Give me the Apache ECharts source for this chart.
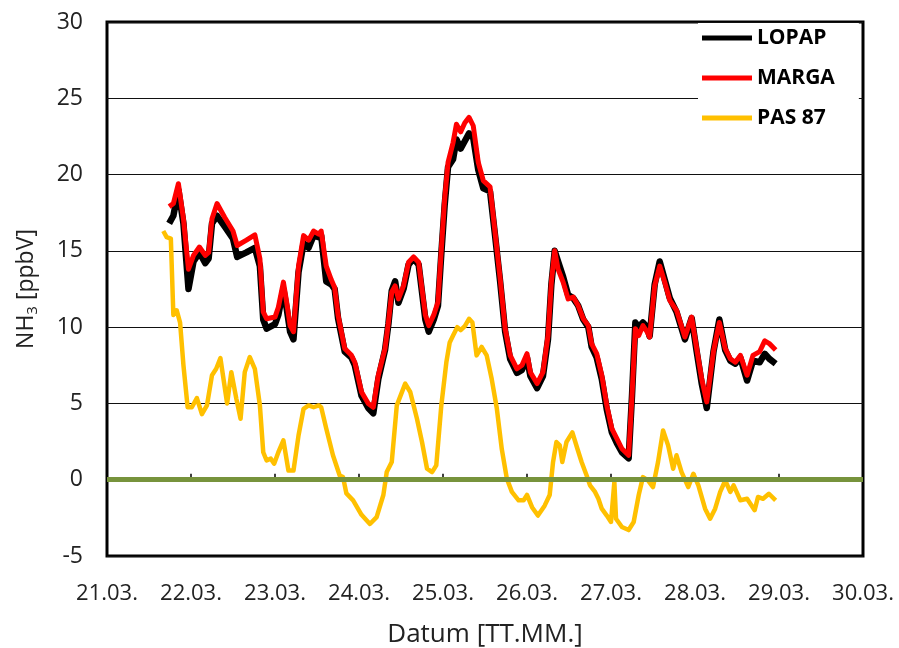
<!DOCTYPE html>
<html>
<head>
<meta charset="utf-8">
<script src="https://cdn.jsdelivr.net/npm/echarts@6/dist/echarts.min.js"></script>
<style>
html,body{margin:0;padding:0;background:#fff;}
#chart{width:899px;height:648px;}
</style>
</head>
<body>
<div id="chart"></div>
<script>
// ---- data (x = day of March, fractional) ----
const tickLabels = ['21.03.','22.03.','23.03.','24.03.','25.03.','26.03.','27.03.','28.03.','29.03.','30.03.'];
const seriesNames = ['LOPAP','MARGA','PAS 87'];

const analyzerDays = [
 21.74,21.79,21.85,21.91,21.97,22.03,22.10,22.17,22.21,22.25,22.31,22.40,22.50,22.55,22.66,22.76,22.82,22.86,22.90,23.00,
 23.04,23.10,23.14,23.18,23.22,23.28,23.34,23.40,23.46,23.52,23.55,23.61,23.67,23.71,23.75,23.83,23.91,23.95,24.03,24.11,
 24.17,24.23,24.31,24.35,24.39,24.43,24.47,24.53,24.59,24.65,24.71,24.75,24.79,24.83,24.89,24.94,24.98,25.02,25.06,25.12,
 25.16,25.21,25.26,25.31,25.36,25.42,25.48,25.56,25.62,25.68,25.74,25.80,25.88,25.94,26.00,26.04,26.12,26.19,26.25,26.29,
 26.33,26.37,26.43,26.49,26.55,26.61,26.67,26.73,26.77,26.83,26.89,26.95,27.01,27.07,27.13,27.21,27.25,27.29,27.33,27.38,
 27.43,27.46,27.52,27.58,27.64,27.70,27.78,27.88,27.96,28.02,28.08,28.14,28.22,28.29,28.36,28.42,28.48,28.54,28.62,28.69,
 28.77,28.83,28.89,28.96
];
const margaValues = [
 17.9,18.1,19.4,17.1,13.8,14.7,15.25,14.7,14.9,17.1,18.1,17.2,16.3,15.35,15.7,16.05,14.5,11.0,10.55,10.66,
 11.3,12.95,11.6,10.1,9.7,14.0,16.0,15.7,16.3,16.1,16.3,14.0,13.1,12.6,10.8,8.6,8.15,7.7,5.75,5.0,
 4.75,6.85,8.6,10.3,12.3,12.7,11.85,12.7,14.25,14.6,14.25,12.5,10.8,10.1,10.8,11.65,15.1,18.4,20.8,22.1,
 23.3,22.8,23.4,23.75,23.2,20.8,19.6,19.2,16.2,13.2,9.9,8.15,7.27,7.5,8.26,7.05,6.3,7.05,9.45,12.95,
 15.0,13.8,12.95,11.85,11.97,11.4,10.55,10.1,8.9,8.26,6.85,4.87,3.35,2.7,2.03,1.6,5.5,9.9,9.45,10.1,
 9.7,9.35,12.7,14.0,12.95,11.75,11.1,9.35,10.66,8.6,6.6,5.1,8.4,10.3,8.6,7.93,7.7,8.15,6.85,8.15,
 8.4,9.1,8.9,8.5
];
const lopapValues = [
 16.8,17.3,19.0,16.8,12.5,14.3,14.9,14.2,14.5,16.8,17.3,16.6,15.8,14.6,14.9,15.2,14.0,10.5,9.9,10.2,
 10.8,12.5,11.2,9.7,9.2,13.6,15.5,15.2,16.0,15.9,16.0,13.0,12.8,12.5,10.6,8.4,8.0,7.5,5.5,4.7,
 4.35,6.6,8.5,10.2,12.4,13.0,11.6,12.5,14.1,14.5,14.1,12.3,10.5,9.7,10.5,11.4,14.8,18.0,20.5,21.0,
 22.3,21.7,22.2,22.7,22.4,20.3,19.1,18.9,16.0,13.0,9.7,7.9,7.0,7.2,8.0,6.8,6.0,6.8,9.2,12.8,
 15.0,14.3,13.3,12.1,11.9,11.4,10.5,10.0,8.7,8.0,6.6,4.6,3.1,2.4,1.8,1.4,5.5,10.3,10.0,10.3,
 10.0,9.4,12.8,14.3,13.1,11.9,11.0,9.2,10.6,8.4,6.3,4.7,8.4,10.5,8.5,7.8,7.6,8.0,6.5,7.8,
 7.7,8.25,7.9,7.6
];

const pasDays = [
 21.67,21.71,21.76,21.79,21.83,21.87,21.91,21.96,22.01,22.07,22.13,22.19,22.25,22.30,22.35,22.43,22.48,22.54,22.59,22.64,
 22.70,22.76,22.82,22.86,22.90,22.95,22.99,23.04,23.10,23.16,23.22,23.28,23.34,23.40,23.46,23.52,23.55,23.61,23.69,23.77,
 23.81,23.85,23.93,24.03,24.13,24.21,24.29,24.33,24.39,24.45,24.55,24.61,24.69,24.75,24.81,24.87,24.92,24.98,25.04,25.08,
 25.12,25.17,25.21,25.26,25.31,25.35,25.40,25.46,25.52,25.58,25.64,25.70,25.76,25.82,25.90,25.96,26.00,26.06,26.13,26.21,
 26.27,26.31,26.35,26.39,26.42,26.47,26.54,26.60,26.65,26.71,26.75,26.81,26.85,26.89,26.95,27.00,27.04,27.06,27.13,27.21,
 27.27,27.33,27.38,27.44,27.50,27.56,27.62,27.68,27.74,27.78,27.84,27.92,27.98,28.04,28.12,28.18,28.24,28.30,28.36,28.42,
 28.46,28.54,28.62,28.71,28.75,28.81,28.88,28.96
];
const pasValues = [
 16.3,15.9,15.8,10.8,11.1,10.3,7.5,4.75,4.75,5.35,4.3,4.87,6.85,7.27,7.97,5.0,7.05,5.3,4.0,7.05,
 8.04,7.27,4.87,1.8,1.26,1.38,1.05,1.8,2.58,0.6,0.6,2.9,4.65,4.87,4.75,4.87,4.75,3.35,1.6,0.28,
 0.17,-0.9,-1.35,-2.3,-2.9,-2.45,-1.0,0.5,1.16,4.87,6.3,5.75,4.0,2.47,0.72,0.5,0.94,4.87,7.7,9.0,
 9.45,10.0,9.8,10.07,10.55,10.3,8.15,8.7,8.15,6.6,4.7,2.0,0.07,-0.8,-1.35,-1.35,-1.0,-1.8,-2.35,-1.7,
 -1.0,1.16,2.47,2.25,1.16,2.47,3.1,2.03,1.16,0.28,-0.37,-0.8,-1.25,-1.9,-2.35,-2.77,-0.15,-2.56,-3.1,-3.3,
 -2.77,-1.0,0.17,-0.05,-0.48,1.16,3.23,2.25,0.72,1.6,0.5,-0.48,0.39,-0.37,-1.9,-2.56,-1.9,-0.8,-0.05,-0.8,
 -0.37,-1.35,-1.25,-2.0,-1.13,-1.25,-0.92,-1.35
];

// ---- chart ----
function pairs(xs, ys) { return xs.map(function (x, i) { return [x, ys[i]]; }); }
const FONT = 'Open Sans';
const chart = echarts.init(document.getElementById('chart'), null, { renderer: 'canvas' });
chart.setOption({
  animation: false,
  backgroundColor: '#ffffff',
  grid: { left: 107, right: 36, top: 22, bottom: 92, outerBoundsMode: 'none', containLabel: false,
    show: true, borderColor: '#000', borderWidth: 3, backgroundColor: 'transparent' },
  legend: {
    orient: 'vertical', left: 698, top: 23,
    backgroundColor: '#ffffff', padding: [4, 24, 10, 4],
    itemWidth: 50, itemHeight: 5, itemGap: 18, icon: 'rect',
    textStyle: { fontFamily: FONT, fontWeight: 'bold', fontSize: 21, color: '#000', lineHeight: 22 },
    data: seriesNames
  },
  xAxis: {
    type: 'value', min: 21, max: 30, interval: 1,
    axisLine: { show: false },
    axisTick: { show: true, inside: true, length: 6, lineStyle: { color: '#000', width: 1.5 } },
    splitLine: { show: false },
    axisLabel: { formatter: function (v) { return tickLabels[Math.round(v - 21)]; }, fontFamily: FONT, fontSize: 22, color: '#222', margin: 27 },
    name: 'Datum [TT.MM.]', nameLocation: 'middle', nameGap: 66,
    nameTextStyle: { fontFamily: FONT, fontSize: 26, color: '#222' }
  },
  yAxis: {
    type: 'value', min: -5, max: 30, interval: 5,
    axisLine: { show: false }, axisTick: { show: false },
    splitLine: { show: true, lineStyle: { color: '#111', width: 1 } },
    axisLabel: { fontFamily: FONT, fontSize: 23, color: '#222', margin: 24 },
    name: '{n|NH}{s|3}{n| [ppbV]}', nameLocation: 'middle', nameRotate: 90, nameGap: 64,
    nameTextStyle: {
      rich: {
        n: { fontFamily: FONT, fontSize: 23, color: '#222', lineHeight: 34 },
        s: { fontFamily: FONT, fontSize: 15, color: '#222', lineHeight: 34, padding: [14, 0, 0, 0] }
      }
    }
  },
  series: [
    { name: seriesNames[0], type: 'line', data: pairs(analyzerDays, lopapValues), color: '#000000',
      showSymbol: false, lineStyle: { color: '#000000', width: 6.5, join: 'round' }, emphasis: { disabled: true }, z: 2 },
    { name: seriesNames[1], type: 'line', data: pairs(analyzerDays, margaValues), color: '#FF0000',
      showSymbol: false, lineStyle: { color: '#FF0000', width: 5, join: 'round' }, emphasis: { disabled: true }, z: 3 },
    { name: seriesNames[2], type: 'line', data: pairs(pasDays, pasValues), color: '#FFC000',
      showSymbol: false, lineStyle: { color: '#FFC000', width: 4.5, join: 'round' }, emphasis: { disabled: true }, z: 3,
      markLine: { silent: true, symbol: 'none', label: { show: false },
        lineStyle: { color: '#77933C', width: 5, type: 'solid' }, data: [{ yAxis: 0 }] } }
  ]
});
</script>
</body>
</html>
